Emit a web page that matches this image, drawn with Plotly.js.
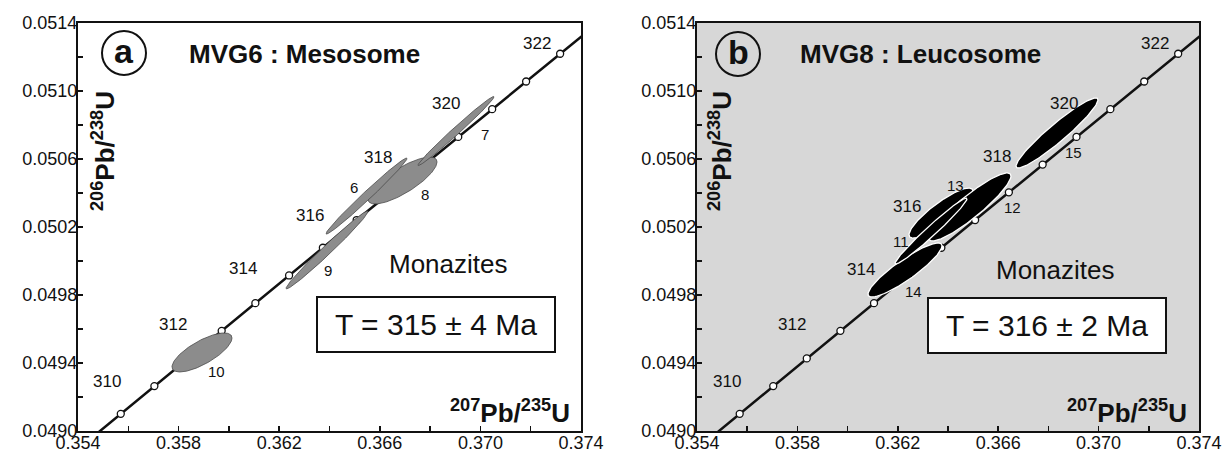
<!DOCTYPE html>
<html>
<head>
<meta charset="utf-8">
<script src="https://cdn.plot.ly/plotly-3.0.1.min.js"></script>
<style>html,body{margin:0;padding:0;background:#fff;}#chart{width:1230px;height:454px;}</style>
</head>
<body>
<div id="chart"></div>
<script>
// ---- Concordia (ages in Ma) ----
const concAge = [308, 309, 310, 311, 312, 313, 314, 315, 316, 317, 318, 319, 320, 321, 322, 323];
const concX = [0.354367, 0.355701, 0.357037, 0.358374, 0.359713, 0.361052, 0.362393, 0.363736, 0.365080, 0.366425, 0.367771, 0.369119, 0.370468, 0.371818, 0.373170, 0.374523];
const concY = [0.048938, 0.049101, 0.049264, 0.049427, 0.049589, 0.049752, 0.049915, 0.050078, 0.050241, 0.050404, 0.050567, 0.050730, 0.050893, 0.051056, 0.051219, 0.051382];
const ageLabels = [310, 312, 314, 316, 318, 320, 322];

// ---- Panel a : MVG6 Mesosome (error ellipses) ----
const aIds = ['10', '9', '8', '6', '7'];
const aX = [0.358930, 0.363901, 0.366903, 0.365471, 0.369030];
const aY = [0.049462, 0.050065, 0.0504735, 0.050382, 0.0507647];
const aSx = [0.001193, 0.001630, 0.001372, 0.001610, 0.001511];
const aSy = [0.0001147, 0.000229, 0.000138, 0.0002235, 0.000203];
const aRho = [0.74, 0.987, 0.79, 0.989, 0.99];

// ---- Panel b : MVG8 Leucosome ----
const bIds = ['13', '12', '14', '11', '15'];
const bX = [0.363721, 0.364876, 0.362287, 0.363323, 0.368343];
const bY = [0.050282, 0.050318, 0.049947, 0.050176, 0.050753];
const bSx = [0.001275, 0.001633, 0.001474, 0.001434, 0.001633];
const bSy = [0.000147, 0.000200, 0.000159, 0.000194, 0.000206];
const bRho = [0.87, 0.91, 0.894, 0.979, 0.945];

const xTicks = [0.354, 0.358, 0.362, 0.366, 0.370, 0.374];
const yTicks = [0.0490, 0.0494, 0.0498, 0.0502, 0.0506, 0.0510, 0.0514];

// ---- label offsets (pixels) ----
const ageShiftA = {310:[-47,5],312:[-49,6],314:[-46,7],316:[-47,5],318:[-46,7],320:[-46,6],322:[-23,10]};
const ageShiftB = {310:[-46,5],312:[-48,6],314:[-47,6],316:[-68,14],318:[-46,8],320:[-46,6],322:[-23,10]};
const numShift = {'10':[15,-19],'9':[1,-21],'6':[-13,9],'8':[22,-14],'7':[29,-3],
                  '14':[8,-21],'11':[-30,-10],'13':[14,28],'12':[43,-1],'15':[16,-20]};

const FONT = 'Liberation Sans, Arial, Helvetica, sans-serif';
const W = 1230;
function px(x){ return x / W; }
function py(y){ return (431 - y) / 408; }

function ellipse(cx, cy, sx, sy, r){
  const xs = [], ys = [];
  const q = Math.sqrt(1 - r*r);
  for (let i = 0; i <= 160; i++){
    const t = 2*Math.PI*i/160;
    xs.push(cx + sx*Math.cos(t));
    ys.push(cy + sy*(r*Math.cos(t) + q*Math.sin(t)));
  }
  return [xs, ys];
}

const traces = [];
const annotations = [];
function panel(xr, yr, ids, X, Y, SX, SY, R, fill, edge, edgeW, ageShift){
  traces.push({x: concX, y: concY, xaxis: xr, yaxis: yr, mode: 'lines+markers', type: 'scatter',
    line: {color: '#111', width: 2.5},
    marker: {symbol: 'circle', size: 7, color: '#fff', line: {color: '#111', width: 1.3}},
    hoverinfo: 'skip', showlegend: false});
  for (let i = 0; i < ids.length; i++){
    const e = ellipse(X[i], Y[i], SX[i], SY[i], R[i]);
    traces.push({x: e[0], y: e[1], xaxis: xr, yaxis: yr, mode: 'lines', type: 'scatter', fill: 'toself',
      fillcolor: fill, line: {color: edge, width: edgeW}, hoverinfo: 'skip', showlegend: false});
    const s = numShift[ids[i]];
    annotations.push({x: X[i], y: Y[i], xref: xr, yref: yr, text: ids[i], showarrow: false,
      xanchor: 'center', yanchor: 'middle',
      xshift: s[0], yshift: s[1], font: {family: FONT, size: 15, color: '#111'}});
  }
  ageLabels.forEach(a => {
    const k = concAge.indexOf(a);
    const s = ageShift[a];
    annotations.push({x: concX[k], y: concY[k], xref: xr, yref: yr, text: String(a), showarrow: false,
      xanchor: 'center', yanchor: 'middle',
      xshift: s[0], yshift: s[1], font: {family: FONT, size: 17, color: '#111'}});
  });
}
panel('x', 'y', aIds, aX, aY, aSx, aSy, aRho, '#8c8c8c', '#4a4a4a', 0.8, ageShiftA);
panel('x2', 'y2', bIds, bX, bY, bSx, bSy, bRho, '#000000', '#ffffff', 1.3, ageShiftB);

function axisX(dom){
  return {domain: dom, range: [0.354, 0.374], tickvals: xTicks, ticktext: xTicks.map(v => v.toFixed(3)),
    ticks: 'inside', ticklen: 5, tickwidth: 1.5, tickcolor: '#111', ticklabelstandoff: -6,
    minor: {dtick: 0.002, tick0: 0.354, ticks: 'inside', ticklen: 5, tickwidth: 1.5, tickcolor: '#111'},
    showline: true, linecolor: '#111', linewidth: 2, mirror: true, showgrid: false, zeroline: false,
    tickfont: {family: FONT, size: 18, color: '#111'}, fixedrange: true};
}
function axisY(anchor){
  return {domain: [0, 1], anchor: anchor, range: [0.0490, 0.0514], tickvals: yTicks, ticktext: yTicks.map(v => v.toFixed(4)),
    ticks: 'inside', ticklen: 5, tickwidth: 1.5, tickcolor: '#111', ticklabelstandoff: -5,
    minor: {dtick: 0.0002, tick0: 0.049, ticks: 'inside', ticklen: 5, tickwidth: 1.5, tickcolor: '#111'},
    showline: true, linecolor: '#111', linewidth: 2, mirror: true, showgrid: false, zeroline: false,
    tickfont: {family: FONT, size: 18, color: '#111'}, fixedrange: true};
}

const panels = [
  {circle: [124, 53], letter: 'a', title: 'MVG6 : Mesosome', titleX: 304, ytitleX: 103, xtitleR: 572,
   mon: [448, 264], box: [317, 297, 555, 352], age: 'T = 315 ± 4 Ma'},
  {circle: [738, 54], letter: 'b', title: 'MVG8 : Leucosome', titleX: 920, ytitleX: 720, xtitleR: 1189,
   mon: [1055, 270], box: [928, 298, 1166, 353], age: 'T = 316 ± 2 Ma'}
];

const shapes = [
  {type: 'rect', xref: 'x2 domain', yref: 'y2 domain', x0: 0, x1: 1, y0: 0, y1: 1,
   fillcolor: '#d7d7d7', line: {width: 0}, layer: 'below'}
];
function note(x, y, text, size, extra){
  return Object.assign({xref: 'paper', yref: 'paper', x: px(x), y: py(y), text: text, showarrow: false,
    xanchor: 'center', yanchor: 'middle', font: {family: FONT, size: size, color: '#111'}}, extra || {});
}
panels.forEach(p => {
  const r = 22;
  shapes.push({type: 'circle', xref: 'paper', yref: 'paper', x0: px(p.circle[0]-r), x1: px(p.circle[0]+r),
    y0: py(p.circle[1]+r), y1: py(p.circle[1]-r), line: {color: '#111', width: 2}, layer: 'above'});
  shapes.push({type: 'rect', xref: 'paper', yref: 'paper', x0: px(p.box[0]), x1: px(p.box[2]),
    y0: py(p.box[3]), y1: py(p.box[1]), fillcolor: '#fff', line: {color: '#111', width: 2}, layer: 'above'});
  annotations.push(note(p.circle[0], p.circle[1] - 2, '<b>' + p.letter + '</b>', 34));
  annotations.push(note(p.titleX, 54, '<b>' + p.title + '</b>', 26));
  annotations.push(note(p.ytitleX, 151, '<b><sup>206</sup>Pb/<sup>238</sup>U</b>', 26, {textangle: -90}));
  annotations.push(note(p.xtitleR, 411, '<b><sup>207</sup>Pb/<sup>235</sup>U</b>', 26, {xanchor: 'right'}));
  annotations.push(note(p.mon[0], p.mon[1], 'Monazites', 26));
  annotations.push(note((p.box[0]+p.box[2])/2, (p.box[1]+p.box[3])/2, p.age, 30));
});

const layout = {
  width: 1230, height: 454,
  margin: {l: 0, r: 0, t: 23, b: 23, pad: 0},
  paper_bgcolor: '#fff', plot_bgcolor: 'rgba(0,0,0,0)',
  showlegend: false,
  xaxis: Object.assign(axisX([px(78), px(581)]), {anchor: 'y'}),
  yaxis: axisY('x'),
  xaxis2: Object.assign(axisX([px(697), px(1199)]), {anchor: 'y2'}),
  yaxis2: axisY('x2'),
  shapes: shapes,
  annotations: annotations
};

Plotly.newPlot('chart', traces, layout, {staticPlot: true, displayModeBar: false});
</script>
</body>
</html>
